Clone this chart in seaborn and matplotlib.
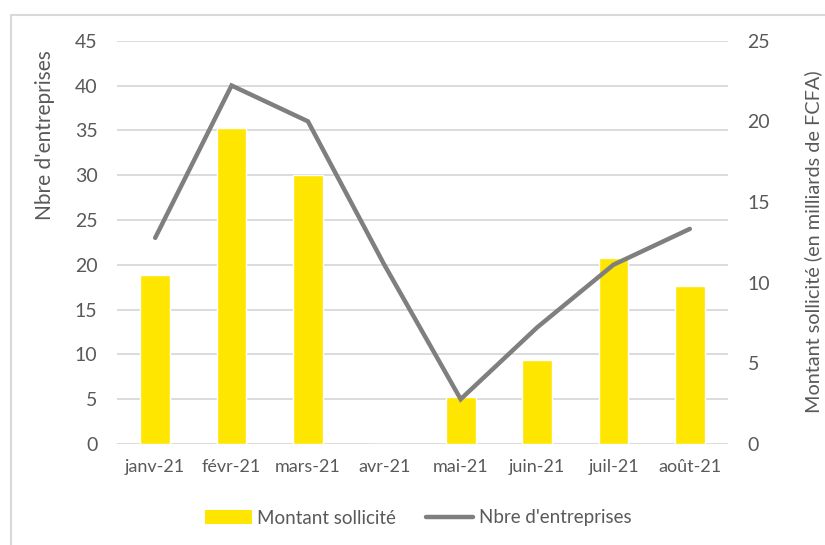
import matplotlib
matplotlib.use("Agg")
import matplotlib.pyplot as plt
import seaborn as sns
import pandas as pd
from matplotlib.patches import Patch
from matplotlib.lines import Line2D

# data
mois = ["janv-21", "févr-21", "mars-21", "avr-21", "mai-21", "juin-21", "juil-21", "août-21"]
montant = [10.5, 19.6, 16.7, 0.0, 2.9, 5.2, 11.5, 9.8]   # milliards de FCFA (right axis)
nbre = [23, 40, 36, 20, 5, 13, 20, 24]                     # nombre d'entreprises (left axis)

left_ticks = list(range(0, 50, 5))
right_ticks = list(range(0, 30, 5))

sns.set_style("white")
plt.rcParams["font.family"] = ["Lato", "DejaVu Sans"]

txt = "#595959"
grid = "#d9d9d9"
jaune = "#FFE600"
gris = "#7f7f7f"

df = pd.DataFrame({"mois": mois, "pos": range(len(mois)), "montant": montant, "nbre": nbre})

fig = plt.figure(figsize=(8.25, 5.45), dpi=100)
ax = fig.add_axes([117 / 825, 1 - 444 / 545, (728 - 117) / 825, (444 - 40.7) / 545])
ax2 = ax.twinx()
ax3 = ax.twinx()

# gridlines from the left axis, behind everything
ax.set_ylim(0, 45)
ax.set_yticks(left_ticks)
ax.yaxis.grid(True, color=grid, linewidth=1.3)
ax.set_axisbelow(True)

# bars on right axis
sns.barplot(data=df, x="mois", y="montant", color=jaune, width=0.39, saturation=1, ax=ax2)
ax2.set_ylim(0, 25)
ax2.set_yticks(right_ticks)

# line on left scale, drawn on top
sns.lineplot(data=df, x="pos", y="nbre", color=gris, linewidth=3.2, ax=ax3,
             solid_capstyle="round", solid_joinstyle="miter")
ax3.set_ylim(0, 45)
ax3.set_yticks([])

for a in (ax, ax2, ax3):
    a.set_xlim(-0.5, len(mois) - 0.5)
    a.set_xlabel("")
    a.set_ylabel("")
    for s in a.spines.values():
        s.set_visible(False)

ax.set_xticks(range(len(mois)))
ax.set_xticklabels(mois)
ax2.tick_params(axis="x", bottom=False, labelbottom=False)
ax3.tick_params(axis="x", bottom=False, labelbottom=False)

ax.tick_params(axis="x", length=0, pad=11, labelsize=13, labelcolor=txt)
ax.tick_params(axis="y", length=0, pad=14, labelsize=14, labelcolor=txt)
ax2.tick_params(axis="y", length=0, pad=14, labelsize=14, labelcolor=txt)

fig.text(45 / 825, 1 - 135 / 545, "Nbre d'entreprises", rotation=90, ha="center", va="center",
         fontsize=15, color=txt)
fig.text(813 / 825, 1 - 242 / 545, "Montant sollicité (en milliards de FCFA)", rotation=90,
         ha="center", va="center", fontsize=14.3, color=txt)

handles = [Patch(facecolor=jaune, edgecolor="none"),
           Line2D([0], [0], color=gris, linewidth=3.2, solid_capstyle="round")]
fig.legend(handles, ["Montant sollicité", "Nbre d'entreprises"], loc="center",
           bbox_to_anchor=(418 / 825, 1 - 518 / 545), ncol=2, frameon=False,
           fontsize=13.5, labelcolor=txt, handlelength=2.5, handletextpad=0.3,
           columnspacing=1.6)

# outer chart frame (top and left edges visible)
fx = 11 / 825
fy = 1 - 15 / 545
fig.add_artist(Line2D([fx, fx], [0, fy], color=grid, linewidth=1.5, transform=fig.transFigure))
fig.add_artist(Line2D([fx, 1], [fy, fy], color=grid, linewidth=1.5, transform=fig.transFigure))

fig.savefig("out.png", dpi=100)
